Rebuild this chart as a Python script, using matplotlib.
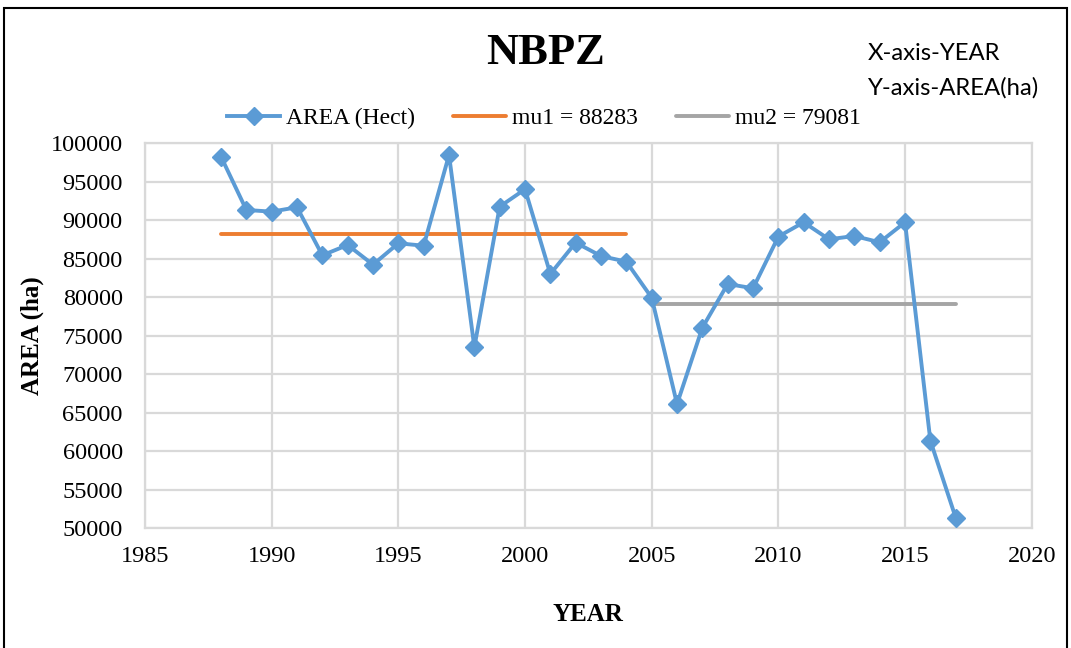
import matplotlib
matplotlib.use("Agg")
import matplotlib.pyplot as plt
from matplotlib.patches import Rectangle

years = list(range(1988, 2018))
area = [98260, 91340, 91120, 91690, 85450, 86790, 84240, 87010, 86700, 98480,
        73510, 91770, 94030, 83030, 87100, 85360, 84620, 79950, 66140, 76050,
        81730, 81170, 87880, 89740, 87530, 87960, 87140, 89740, 61380, 51380]
mu1 = 88283
mu1_years = [1988, 2004]
mu2 = 79081
mu2_years = [2005, 2017]
x_ticks = [1985, 1990, 1995, 2000, 2005, 2010, 2015, 2020]
y_ticks = list(range(50000, 100001, 5000))

serif = "Liberation Serif"
fig = plt.figure(figsize=(10.71, 6.48), dpi=100)
ax = fig.add_axes([0.1354, 0.1847, 0.8279, 0.5942])

ax.plot(years, area, color="#5B9BD5", lw=2.8, marker="D", markersize=9,
        label="AREA (Hect)", zorder=3)
ax.plot(mu1_years, [mu1, mu1], color="#ED7D31", lw=2.8, label=f"mu1 = {mu1}",
        solid_capstyle="round", zorder=2)
ax.plot(mu2_years, [mu2, mu2], color="#A5A5A5", lw=2.8, label=f"mu2 = {mu2}",
        solid_capstyle="round", zorder=2)

ax.set_xlim(1985, 2020)
ax.set_ylim(50000, 100000)
ax.set_xticks(x_ticks)
ax.set_yticks(y_ticks)
ax.set_xticklabels([str(t) for t in x_ticks], fontfamily=serif, fontsize=17.5)
ax.set_yticklabels([str(t) for t in y_ticks], fontfamily=serif, fontsize=17.5)
ax.tick_params(axis="x", length=0, pad=13)
ax.tick_params(axis="y", length=0, pad=16)
ax.grid(True, color="#D9D9D9", lw=1.6)
ax.set_axisbelow(True)
for s in ax.spines.values():
    s.set_color("#D9D9D9")
    s.set_linewidth(1.6)

ax.set_xlabel("YEAR", fontfamily=serif, fontweight="bold", fontsize=18, labelpad=26)
ax.set_ylabel("AREA (ha)", fontfamily=serif, fontweight="bold", fontsize=18, labelpad=5)

fig.text(0.509, 0.918, "NBPZ", ha="center", va="center", fontfamily=serif,
         fontweight="bold", fontsize=32)
fig.text(0.810, 0.918, "X-axis-YEAR", ha="left", va="center", fontfamily="Lato", fontsize=17.2)
fig.text(0.810, 0.865, "Y-axis-AREA(ha)", ha="left", va="center", fontfamily="Lato", fontsize=17.2)

leg = fig.legend(loc="center", bbox_to_anchor=(0.508, 0.817), ncol=3, frameon=False,
                 prop={"family": serif, "size": 17}, handlelength=2.25,
                 columnspacing=1.6, handletextpad=0.25)

fig.patches.append(Rectangle((0.004, -0.05), 0.992, 1.038, transform=fig.transFigure,
                             fill=False, edgecolor="black", lw=1.5))

fig.savefig("out.png", dpi=100)
